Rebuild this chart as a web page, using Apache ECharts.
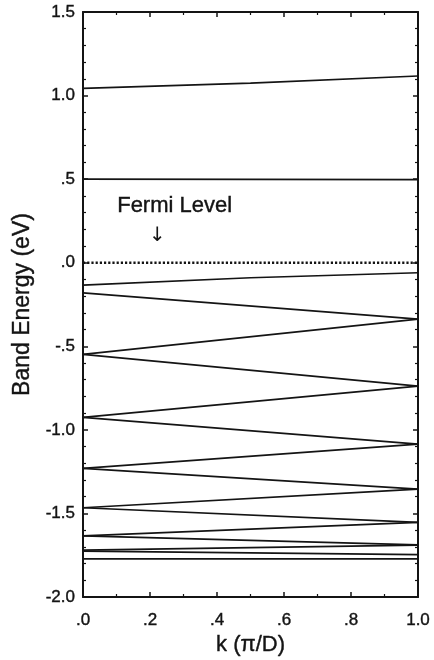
<!DOCTYPE html>
<html>
<head>
<meta charset="utf-8">
<script src="https://cdn.jsdelivr.net/npm/echarts@6/dist/echarts.min.js"></script>
<style>
  html, body { margin: 0; padding: 0; background: #fff; }
  #main { width: 434px; height: 660px; }
</style>
</head>
<body>
<div id="main"></div>
<script>
// k points and band energies (eV)
var kPts = [0, 0.5, 1];
var kEnds = [0, 1];

var band1 = [1.043, 1.075, 1.117];
var band2 = [0.500, 0.497];
var fermi = [0, 0];
var band3 = [-0.134, -0.090, -0.060];
var band4 = [-0.180, -0.337];
var band5 = [-0.548, -0.337];
var band6 = [-0.548, -0.738];
var band7 = [-0.925, -0.738];
var band8 = [-0.925, -1.085];
var band9 = [-1.231, -1.085];
var band10 = [-1.231, -1.355];
var band11 = [-1.466, -1.355];
var band12 = [-1.466, -1.554];
var band13 = [-1.634, -1.554];
var band14 = [-1.634, -1.688];
var band15 = [-1.720, -1.690];
var band16 = [-1.726, -1.747];
var band17 = [-1.772, -1.772];

var xTickLabels = ['.0', '.2', '.4', '.6', '.8', '1.0'];
var yTickLabels = ['-2.0', '-1.5', '-1.0', '-.5', '.0', '.5', '1.0', '1.5'];

var bands = [band1, band2, band3, band4, band5, band6, band7, band8, band9,
             band10, band11, band12, band13, band14, band15, band16, band17];

var FONT = 'Liberation Sans, Arial, Helvetica, sans-serif';
var INK = '#141414';

function pair(ks, vals) {
    var out = [];
    for (var i = 0; i < vals.length; i++) out.push([ks[i], vals[i]]);
    return out;
}

var series = [];
bands.forEach(function (b, i) {
    series.push({
        name: 'band' + (i + 1),
        type: 'line',
        data: pair(b.length === 3 ? kPts : kEnds, b),
        showSymbol: false,
        silent: true,
        lineStyle: { color: INK, width: 1.7 }
    });
});
series.push({
    name: 'Fermi',
    type: 'line',
    data: pair(kEnds, fermi),
    showSymbol: false,
    silent: true,
    lineStyle: { color: INK, width: 2.4, type: [2.2, 2] }
});

var myChart = echarts.init(document.getElementById('main'));

var axisCommon = {
    axisLine: { show: true, onZero: false, lineStyle: { color: INK, width: 2 } },
    axisTick: { show: true, inside: true, length: 5, lineStyle: { color: INK, width: 1.5 } },
    splitLine: { show: false }
};
var heavy = { textBorderColor: INK, textBorderWidth: 0.4 };

function xAxisOpt(pos, showLabel) {
    return Object.assign({
        type: 'value', position: pos, min: 0, max: 1, interval: 0.2,
        minorTick: { show: true, splitNumber: 2, length: 3, lineStyle: { color: INK, width: 1.2 } },
        axisLabel: Object.assign({
            show: showLabel, margin: 15, fontSize: 17, color: INK, fontFamily: FONT,
            formatter: function (v) { return xTickLabels[Math.round(v / 0.2)]; }
        }, heavy)
    }, pos === 'bottom' ? {
        name: 'k (\u03c0/D)', nameLocation: 'middle', nameGap: 34,
        nameTextStyle: Object.assign({ fontSize: 22, color: INK, fontFamily: FONT }, heavy)
    } : {}, axisCommon);
}

function yAxisOpt(pos, showLabel) {
    return Object.assign({
        type: 'value', position: pos, min: -2, max: 1.5, interval: 0.5,
        minorTick: { show: true, splitNumber: 5, length: 3, lineStyle: { color: INK, width: 1.2 } },
        axisLabel: Object.assign({
            show: showLabel, margin: 8, fontSize: 17, color: INK, fontFamily: FONT,
            formatter: function (v) { return yTickLabels[Math.round((v + 2) / 0.5)]; }
        }, heavy)
    }, pos === 'left' ? {
        name: 'Band Energy (eV)', nameLocation: 'middle', nameGap: 40,
        nameTextStyle: Object.assign({ fontSize: 23, color: INK, fontFamily: FONT }, heavy)
    } : {}, axisCommon);
}

var option = {
    animation: false,
    backgroundColor: '#fff',
    grid: { left: 83, right: 16, top: 12, bottom: 63, outerBoundsMode: 'none' },
    xAxis: [xAxisOpt('bottom', true), xAxisOpt('top', false)],
    yAxis: [yAxisOpt('left', true), yAxisOpt('right', false)],
    graphic: [
        {
            type: 'text', left: 117, top: 195,
            style: { text: 'Fermi Level', fontSize: 22, fill: INK, fontFamily: FONT, stroke: INK, lineWidth: 0.4 }
        },
        {
            type: 'text', left: 149, top: 226,
            style: { text: '\u2193', fontSize: 20, fill: INK, fontFamily: 'DejaVu Sans, sans-serif' }
        }
    ],
    series: series
};

myChart.setOption(option);
</script>
</body>
</html>
